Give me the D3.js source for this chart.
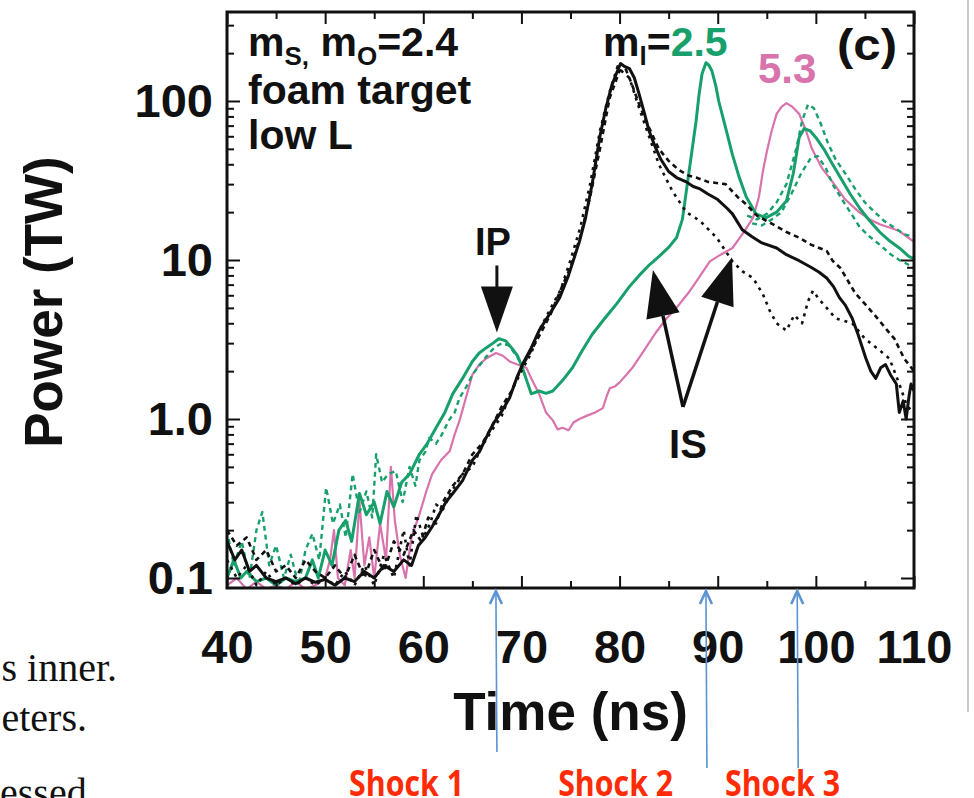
<!DOCTYPE html>
<html lang="en">
<head>
<meta charset="UTF-8">
<title>Power vs time, foam target</title>
<script src="https://cdnjs.cloudflare.com/ajax/libs/d3/7.9.0/d3.min.js"></script>
<style>
  body{margin:0;background:#fff;}
  svg{display:block;}
  .ax text{font-family:"Liberation Sans",Arial,Helvetica,sans-serif;font-weight:700;fill:#111;}
  .lbl{font-family:"Liberation Sans",Arial,Helvetica,sans-serif;font-weight:700;fill:#111;}
  .slide{font-family:"Liberation Serif","Times New Roman",serif;fill:#111;}
  .shock{font-family:"Open Sans",sans-serif;font-weight:700;fill:#ff2b06;}
</style>
</head>
<body>
<svg id="chart" width="974" height="798"></svg>
<script>
/* ---------- data (time in ns, power in TW) ---------- */
const xMajor = [40,50,60,70,80,90,100,110];
const xMinor = [45,55,65,75,85,95,105];
const yMajor = [0.1,1,10,100];
const yLabels = ["0.1","1.0","10","100"];

const blackSolid = [[40,0.17],[40.8,0.13],[41.5,0.15],[42.3,0.11],[43,0.12],[44,0.1],[45,0.095],[46,0.1],[47,0.092],[48,0.1],[49,0.094],[50,0.098],[51,0.09],[52,0.1],[53,0.095],[54,0.11],[55,0.1],[56,0.12],[57,0.11],[58,0.13],[58.8,0.12],[59.5,0.16],[60.2,0.18],[60.9,0.21],[61.6,0.25],[62.3,0.3],[63,0.34],[64,0.41],[65,0.55],[65.7,0.62],[66.4,0.76],[67.2,0.95],[68,1.12],[68.8,1.36],[69.5,1.8],[70.1,2.2],[71,2.8],[71.8,3.6],[72.8,4.5],[73.9,5.8],[74.8,8],[75.9,13],[76.5,18],[77.2,30],[78,60],[78.6,90],[79.2,125],[79.7,150],[80.1,172],[80.5,165],[81,160],[81.5,140],[82,110],[82.5,85],[83,65],[83.6,52],[84.2,43],[85,36],[85.8,33],[86.8,31],[87.5,29],[88.2,28],[89,26],[90,24],[91,21],[91.5,19.5],[92.5,15.5],[93.5,14],[94.5,12.8],[96,11.9],[97,10.8],[98.3,9.9],[99.5,9],[100.3,8.4],[101.1,7.7],[101.8,6.8],[102.4,5.8],[103,5.2],[103.7,4.3],[104.3,3.4],[105.1,2.4],[105.6,2.0],[106.1,1.8],[106.6,2.1],[107.1,2.2],[107.6,1.9],[108.2,1.66],[108.5,1.1],[108.9,1.3],[109.2,1.0],[109.5,1.4],[109.7,1.66],[110,1.5]];

const blackDashA = [[40,0.2],[41,0.16],[42,0.18],[43,0.13],[44,0.15],[45,0.11],[46,0.12],[47,0.1],[48,0.13],[49,0.11],[50,0.1],[51,0.12],[52,0.1],[53,0.14],[54,0.1],[55,0.15],[56,0.11],[57,0.17],[58,0.14],[59,0.2],[59.8,0.17],[60.5,0.24],[61.3,0.22],[62,0.3],[63,0.38],[64,0.45],[65,0.6],[66,0.7],[67,0.9],[68,1.2],[69,1.5],[70,2.1],[71,2.7],[72,3.5],[73,4.6],[74,6.5],[75,9],[76,14],[77,25],[78,50],[79,105],[80,155],[80.6,160],[81.2,130],[82,95],[83,68],[84,50],[85,42],[86,37],[87,34],[87.8,33],[89,31],[90.8,30],[92,25],[92.9,22.4],[94,19],[95.6,16.8],[97,15],[98.3,13.8],[99.5,12.5],[101.1,11.4],[101.7,9.9],[102.5,8.9],[104,6.2],[105,5.3],[106,4.5],[107.3,3.6],[108,3.2],[109,2.4],[110,2.0]];

const blackDashB = [[40,0.13],[41,0.1],[42,0.12],[43,0.09],[44,0.11],[45,0.09],[46,0.1],[47,0.09],[48,0.1],[49,0.09],[50,0.1],[51,0.09],[52,0.11],[53,0.09],[54,0.12],[55,0.09],[56,0.14],[57,0.1],[58,0.2],[58.6,0.12],[59.3,0.25],[60,0.18],[60.7,0.22],[61.3,0.29],[62,0.27],[63,0.36],[64,0.45],[65,0.5],[66,0.68],[67,0.85],[68,1.05],[69,1.5],[70,2.0],[71,2.6],[72,3.8],[73,5.0],[74,6.5],[75,10],[76,16],[77,30],[78,65],[79,115],[79.8,165],[80.4,150],[81,140],[82,90],[83,60],[84,40],[85.4,27],[86.8,20],[88.2,17.6],[89.9,13.8],[91.5,9.8],[92.5,8.5],[93.6,7.7],[94.6,6.1],[95.3,4.8],[96,4.0],[97,3.6],[97.8,4.5],[98.6,4.0],[99.2,5.5],[99.7,6.4],[100.4,5.6],[101.1,5.0],[102,4.3],[103.7,4.0],[105,3.2],[106.5,2.7],[107.5,2.4],[108.5,1.66],[109.3,1.2],[110,1.1]];

const greenSolid = [[40,0.1],[40.7,0.13],[41.4,0.1],[42,0.11],[43,0.095],[44,0.1],[45,0.09],[46,0.1],[47,0.095],[48,0.1],[48.7,0.13],[49.3,0.1],[50,0.15],[50.7,0.12],[51.4,0.2],[52.1,0.23],[52.7,0.17],[53.5,0.34],[54.2,0.25],[55,0.3],[55.6,0.22],[56.3,0.35],[57,0.28],[57.8,0.4],[58.6,0.45],[59.6,0.6],[60.4,0.7],[61.3,0.88],[62.2,1.1],[63,1.44],[64,1.8],[65,2.3],[65.7,2.6],[66.4,2.8],[67.1,3.0],[67.7,3.2],[68.4,3.1],[69,2.8],[69.6,2.5],[70.1,2.1],[70.6,1.7],[71,1.44],[71.8,1.5],[72.5,1.45],[73.2,1.5],[74.2,1.75],[75.2,2.1],[76.2,2.7],[77.2,3.4],[78.5,4.3],[79.7,5.3],[81,6.8],[82,8],[83.1,9.4],[84,10.5],[85,12],[85.8,13.8],[86.4,18],[86.9,30],[87.3,45],[87.8,75],[88.1,110],[88.4,148],[88.8,174],[89.1,168],[89.4,155],[89.8,125],[90.1,100],[90.8,68],[91.5,46],[92.2,33],[92.9,25],[93.9,19.5],[94.9,18.4],[96,20],[97,23.5],[97.7,35],[98.3,59],[98.8,67],[99.4,65],[100,59],[100.8,50],[101.7,40],[102.5,33],[103.5,26],[104.5,21],[105.5,17.6],[106.5,15],[107.5,13.2],[108.5,11.9],[109.5,10.5],[110,10.2]];

const greenDashEarly = [[40,0.2],[40.7,0.12],[41.5,0.17],[42.3,0.1],[43,0.2],[43.6,0.26],[44.3,0.12],[45,0.16],[45.8,0.1],[46.5,0.14],[47.3,0.09],[48,0.15],[48.7,0.19],[49.4,0.13],[50.1,0.37],[50.8,0.22],[51.5,0.29],[52.1,0.18],[52.8,0.45],[53.5,0.26],[54.2,0.35],[54.8,0.24],[55.2,0.6],[55.8,0.4],[56.4,0.45],[57.2,0.47],[57.9,0.3],[58.6,0.5],[59.2,0.38],[59.6,0.55],[60.2,0.62],[60.6,0.76],[61.3,0.7],[61.9,0.8],[62.6,0.98],[63.2,1.1],[63.7,1.36],[64.4,1.6],[65,1.9],[65.8,2.2],[66.5,2.5],[67.2,2.8],[68,3.0],[68.7,2.9],[69.5,2.5],[70.2,2.1]];

const greenDashUpper = [[93,19],[94,18],[95,19.5],[96,23],[97,30],[98,50],[98.6,75],[99.2,95],[99.8,90],[100.5,72],[101.2,55],[102,43],[103,35],[104,28],[105,23],[106,20],[107,17.5],[108,16],[109,14.5],[110,14]];
const greenDashLower = [[93.5,17],[94.5,16.5],[95.5,18],[96.5,20],[97.5,26],[98.5,35],[99.5,44],[100.2,45],[101,38],[101.7,30],[102.5,25],[103.5,20],[104.5,16],[105.5,14],[106.5,12.5],[107.5,11],[108.5,10],[109.5,9.3],[110,9]];

const pinkSolid = [[40,0.09],[41,0.1],[42,0.085],[43,0.095],[44,0.085],[45,0.09],[46,0.085],[47,0.095],[48,0.085],[49,0.09],[50,0.1],[50.5,0.13],[50.9,0.2],[51.3,0.1],[52,0.09],[52.6,0.15],[53,0.1],[53.5,0.3],[54,0.12],[54.5,0.18],[55,0.1],[55.6,0.22],[56.2,0.13],[56.7,0.5],[57.1,0.23],[57.6,0.14],[58.2,0.1],[58.8,0.18],[59.6,0.25],[60.3,0.35],[60.9,0.45],[61.8,0.55],[62.7,0.63],[63.2,0.8],[63.7,0.98],[64.4,1.4],[65,1.9],[65.7,2.2],[66.4,2.4],[67.4,2.6],[68.1,2.5],[68.8,2.3],[69.6,2.2],[70.5,2.1],[71.2,1.7],[71.8,1.44],[72.5,1.1],[73.2,0.98],[73.7,0.86],[74.2,0.88],[74.8,0.85],[75.3,0.95],[75.9,1.0],[76.7,1.05],[77.5,1.1],[78.3,1.17],[78.7,1.4],[79,1.56],[79.5,1.6],[80,1.7],[80.7,1.9],[81.3,2.1],[82.5,2.7],[83.7,3.5],[84.8,4.3],[85.8,5.0],[87,6.2],[88,7.6],[89.2,9.8],[90.3,10.8],[91.5,11.9],[92.5,14.5],[93.6,18.4],[94.2,25],[94.6,36],[95,48],[95.5,65],[96,83],[96.5,92],[97,97],[97.6,92],[98.3,83],[99,65],[99.6,50],[100.6,38],[101.7,31],[103,24],[104.4,20],[105.5,18],[106.5,16.8],[107.5,16],[108.5,15.2],[109.3,14],[110,13]];

/* annotations, in data units */
const ipTip = [67.5, 3.5];
const isVertex = [86.46, 1.19];
const isTips = [[83.4, 8.65], [91.46, 10.4]];
const shockNames = ["Shock 1","Shock 2","Shock 3"];
const shockTimes = [67.4, 88.8, 98.1];
const shockLabelTimes = [58.3, 79.6, 96.6];
const shockLineEnd = [752, 768, 768];

/* ---------- layout ---------- */
const plotL = 227, plotR = 914, plotT = 12, plotB = 588;
const green = "#17a06b", pink = "#d873ac", ink = "#111";

const svg = d3.select("#chart");
const x = d3.scaleLinear().domain([40,110]).range([plotL,plotR]);
const y = d3.scaleLog().domain([0.1,100]).range([578,101]);

svg.append("defs").append("clipPath").attr("id","plot")
  .append("rect").attr("x",plotL).attr("y",plotT).attr("width",plotR-plotL).attr("height",plotB-plotT);

/* slide fragments left of the figure */
svg.append("text").attr("class","slide").attr("x",117).attr("y",681).attr("text-anchor","end").attr("font-size",40).text("s inner.");
svg.append("text").attr("class","slide").attr("x",87).attr("y",731).attr("text-anchor","end").attr("font-size",40).text("eters.");
svg.append("text").attr("class","slide").attr("x",0).attr("y",806).attr("font-size",40).text("essed");
svg.append("line").attr("x1",968).attr("x2",968).attr("y1",0).attr("y2",712)
  .attr("stroke","#c9c9c9").attr("stroke-width",2);

/* ---------- curves ---------- */
const line = d3.line().x(d=>x(d[0])).y(d=>y(d[1]));
const curves = svg.append("g").attr("clip-path","url(#plot)").attr("fill","none")
  .attr("stroke-linejoin","round");

[
  {d:pinkSolid, c:pink, w:2.2, dash:null},
  {d:greenDashEarly, c:green, w:2.4, dash:"5,4"},
  {d:greenDashUpper, c:green, w:2.4, dash:"5,4"},
  {d:greenDashLower, c:green, w:2.4, dash:"5,4"},
  {d:greenSolid, c:green, w:3, dash:null},
  {d:blackDashA, c:ink, w:2.6, dash:"5,4"},
  {d:blackDashB, c:ink, w:2.6, dash:"3,5"},
  {d:blackSolid, c:ink, w:3, dash:null}
].forEach(s=>{
  curves.append("path").datum(s.d).attr("d",line)
    .attr("stroke",s.c).attr("stroke-width",s.w)
    .attr("stroke-dasharray",s.dash);
});

/* ---------- axes (ticks point inward) ---------- */
const yMinor = [];
[0.1,1,10,100].forEach(dec=>{ for(let k=2;k<=9;k++){ const v=dec*k; if(v<360) yMinor.push(v);} });

function axis(gen, tr, vals, size, fmt, pad){
  const g = svg.append("g").attr("class","ax").attr("transform",tr)
    .call(gen.tickValues(vals).tickSizeInner(-size).tickSizeOuter(0).tickPadding(pad||0).tickFormat(fmt||(()=>"")));
  g.select(".domain").remove();
  g.selectAll("line").attr("stroke",ink).attr("stroke-width",2);
  return g;
}
const xb = axis(d3.axisBottom(x), `translate(0,${plotB})`, xMajor, 12, d=>d, 42);
xb.selectAll("text").attr("font-size",47);
axis(d3.axisBottom(x), `translate(0,${plotB})`, xMinor, 7);
axis(d3.axisTop(x), `translate(0,${plotT})`, xMajor, 12);
axis(d3.axisTop(x), `translate(0,${plotT})`, xMinor, 7);
const yl = axis(d3.axisLeft(y), `translate(${plotL},0)`, yMajor, 13, d=>yLabels[yMajor.indexOf(d)], 14);
yl.selectAll("text").attr("font-size",47);
axis(d3.axisLeft(y), `translate(${plotL},0)`, yMinor, 7);
axis(d3.axisRight(y), `translate(${plotR},0)`, yMajor, 13);
axis(d3.axisRight(y), `translate(${plotR},0)`, yMinor, 7);

svg.append("rect").attr("x",plotL).attr("y",plotT).attr("width",plotR-plotL).attr("height",plotB-plotT)
  .attr("fill","none").attr("stroke",ink).attr("stroke-width",3);

svg.append("text").attr("class","lbl").attr("font-size",53).attr("text-anchor","middle")
  .attr("x",(plotL+plotR)/2).attr("y",730).text("Time (ns)");
svg.append("text").attr("class","lbl").attr("font-size",53).attr("text-anchor","middle")
  .attr("transform","translate(62,302) rotate(-90)").text("Power (TW)");

/* ---------- in-plot labels ---------- */
const t1 = svg.append("text").attr("class","lbl").attr("font-size",41).attr("x",248).attr("y",56);
t1.append("tspan").text("m");
t1.append("tspan").attr("font-size",26).attr("dy",9).text("S,");
t1.append("tspan").attr("dy",-9).text(" m");
t1.append("tspan").attr("font-size",26).attr("dy",9).text("O");
t1.append("tspan").attr("dy",-9).text("=2.4");
svg.append("text").attr("class","lbl").attr("font-size",41).attr("x",248).attr("y",104).text("foam target");
svg.append("text").attr("class","lbl").attr("font-size",41).attr("x",248).attr("y",149).text("low L");

const t2 = svg.append("text").attr("class","lbl").attr("font-size",41).attr("x",603).attr("y",56);
t2.append("tspan").text("m");
t2.append("tspan").attr("font-size",26).attr("dy",9).text("l");
t2.append("tspan").attr("dy",-9).text("=");
t2.append("tspan").style("fill",green).text("2.5");
svg.append("text").attr("class","lbl").attr("font-size",44).attr("x",837).attr("y",60)
  .attr("textLength",60).attr("lengthAdjust","spacingAndGlyphs").text("(c)");
svg.append("text").attr("class","lbl").attr("font-size",42).attr("x",758).attr("y",83)
  .style("fill",pink).text("5.3");

/* IP arrow */
const ipx = x(ipTip[0]), ipy = y(ipTip[1]);
svg.append("line").attr("x1",ipx).attr("x2",ipx).attr("y1",ipy-67).attr("y2",ipy-40)
  .attr("stroke",ink).attr("stroke-width",3);
svg.append("path").attr("d",`M${ipx-16},${ipy-46}L${ipx+16},${ipy-46}L${ipx},${ipy}Z`).attr("fill",ink);
svg.append("text").attr("class","lbl").attr("font-size",38).attr("text-anchor","middle")
  .attr("x",ipx-4).attr("y",ipy-77).text("IP");

/* IS arrows */
const vx = x(isVertex[0]), vy = y(isVertex[1]);
isTips.forEach(tp=>{
  const tx = x(tp[0]), ty = y(tp[1]);
  const dx = tx-vx, dy = ty-vy, L = Math.hypot(dx,dy), ux = dx/L, uy = dy/L;
  const bx = tx-ux*47, by = ty-uy*47;
  svg.append("line").attr("x1",vx).attr("y1",vy).attr("x2",bx).attr("y2",by)
    .attr("stroke",ink).attr("stroke-width",3.5);
  svg.append("path").attr("d",`M${tx},${ty}L${bx-uy*17},${by+ux*17}L${bx+uy*17},${by-ux*17}Z`).attr("fill",ink);
});
svg.append("text").attr("class","lbl").attr("font-size",40).attr("text-anchor","middle")
  .attr("x",vx+5).attr("y",vy+51).text("IS");

/* shock markers below the axis */
shockTimes.forEach((t,i)=>{
  const sx = x(t);
  svg.append("line").attr("x1",sx).attr("x2",sx+1).attr("y1",591).attr("y2",shockLineEnd[i])
    .attr("stroke","#5b93d3").attr("stroke-width",1.6);
  svg.append("path").attr("d",`M${sx-6},${604}L${sx},${591}L${sx+6},${604}`)
    .attr("fill","none").attr("stroke","#5b93d3").attr("stroke-width",2.6);
  svg.append("text").attr("class","shock").attr("font-size",36).attr("text-anchor","middle")
    .attr("x",x(shockLabelTimes[i])).attr("y",796)
    .attr("textLength",115).attr("lengthAdjust","spacingAndGlyphs").text(shockNames[i]);
});
</script>
</body>
</html>
